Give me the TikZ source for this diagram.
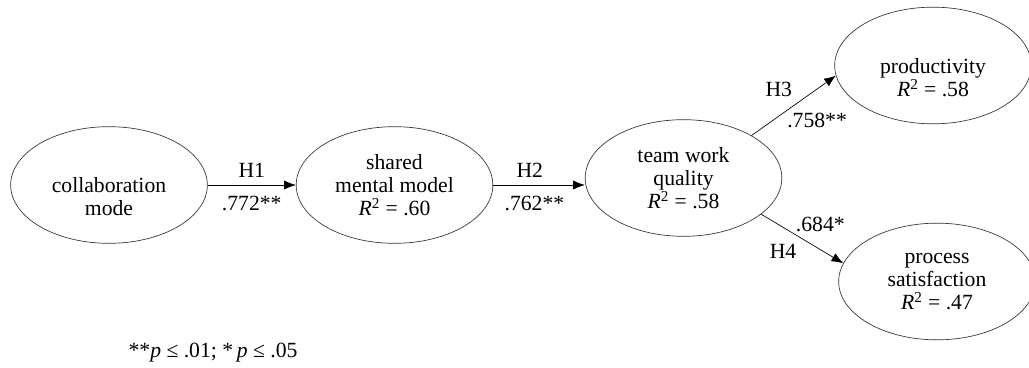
\documentclass[tikz,border=0pt]{standalone}
\usepackage{fontspec}
\setmainfont{Liberation Serif}
\usepackage{tikz}
\usetikzlibrary{shapes.geometric, arrows.meta}

\begin{document}
\begin{tikzpicture}[x=0.6pt, y=-0.6pt, font=\fontsize{13}{13.8}\selectfont,
	latent/.style={draw=black!80, thin, ellipse, minimum width=118pt, minimum height=70pt, inner sep=0pt, align=center},
	effect/.style={thin, arrows={-{Latex[length=7pt, width=5.5pt]}}}]
	\useasboundingbox (0,0) rectangle (1029,367);
	\node [latent] (mode) at (109,185) {\strut\\collaboration\\mode};
	\node [latent] (smm) at (394.5,185) {shared\\mental model\\\textit{R}\textsuperscript{2} = .60};
	\node [latent] (twq) at (683.5,178) {team work\\quality\\\textit{R}\textsuperscript{2} = .58};
	\node [latent] (prod) at (933,65.5) {\strut\\productivity\\\textit{R}\textsuperscript{2} = .58};
	\node [latent] (sat) at (937,281.5) {process\\satisfaction\\\textit{R}\textsuperscript{2} = .47};
	\draw [effect] (mode.east) -- (smm.west) node [midway, above=1pt] {H1} node [midway, below=3pt] {.772**};
	\draw [effect] (smm.east) -- (smm.east -| twq.west) node [pos=0.4, above=1pt] {H2} node [pos=0.45, below=3pt] {.762**};
	\draw [effect] (twq.32) -- (prod.186) node [pos=0.55, above left] {H3} node [pos=0.4, anchor=north west, inner sep=1pt] {.758**};
	\draw [effect] (twq.-25) -- (sat.169) node [pos=0.4, anchor=south west, inner sep=1pt] {.684*} node [pos=0.5, below left] {H4};
	\node (note) at (213,353) {**\textit{p} ≤ .01; *\,\textit{p} ≤ .05};
\end{tikzpicture}
\end{document}
